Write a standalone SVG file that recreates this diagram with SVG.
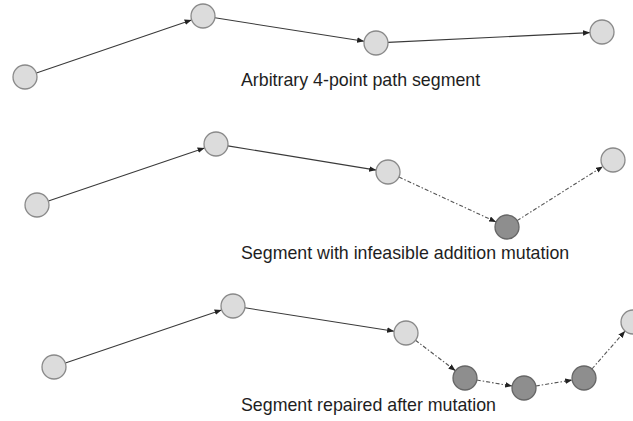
<svg xmlns="http://www.w3.org/2000/svg" width="633" height="421" viewBox="0 0 633 421">
<defs>
<marker id="arr" markerUnits="userSpaceOnUse" markerWidth="8" markerHeight="6" refX="7" refY="3" orient="auto">
<path d="M0,0.2 L7,3 L0,5.8 z" fill="#222"/>
</marker>
<style>
.bg{fill:#fff}
.n{fill:#dcdcdc;stroke:#8a8a8a;stroke-width:1.3}
.d{fill:#8e8e8e;stroke:#666;stroke-width:1.3}
.s{stroke:#3a3a3a;stroke-width:1.1;fill:none;marker-end:url(#arr)}
.h{stroke:#555;stroke-width:1.1;fill:none;stroke-dasharray:4 2 1.5 2;marker-end:url(#arr)}
.t{font-family:"Liberation Sans",Arial,sans-serif;font-size:17.8px;fill:#1e1e1e}
</style>
</defs>
<rect class="bg" x="0" y="0" width="633" height="421"/>
<g id="connectors">
<line class="s" x1="36.4" y1="73.1" x2="191.6" y2="19.9"/>
<line class="s" x1="214.9" y1="17.8" x2="364.1" y2="41.2"/>
<line class="s" x1="388" y1="42.4" x2="590" y2="32.6"/>
<line class="s" x1="48.4" y1="201.1" x2="204.6" y2="147.9"/>
<line class="s" x1="227.8" y1="145.9" x2="376.2" y2="170.1"/>
<line class="h" x1="398.9" y1="177" x2="496.1" y2="222"/>
<line class="h" x1="517.1" y1="220.6" x2="602.9" y2="166.4"/>
<line class="s" x1="65.4" y1="363.1" x2="221.6" y2="309.9"/>
<line class="s" x1="244.9" y1="307.8" x2="394.1" y2="331.2"/>
<line class="h" x1="415.5" y1="340.3" x2="455.5" y2="370.7"/>
<line class="h" x1="476.8" y1="380" x2="512.2" y2="386"/>
<line class="h" x1="535.8" y1="386" x2="572.2" y2="380"/>
<line class="h" x1="591.9" y1="369" x2="625.1" y2="331"/>
</g>
<g id="r1a"><circle class="n" cx="25" cy="77" r="12"/></g>
<g id="r1b"><circle class="n" cx="203" cy="16" r="12"/></g>
<g id="r1c"><circle class="n" cx="376" cy="43" r="12"/></g>
<g id="r1d"><circle class="n" cx="602" cy="32" r="12"/></g>
<g id="r2a"><circle class="n" cx="37" cy="205" r="12"/></g>
<g id="r2b"><circle class="n" cx="216" cy="144" r="12"/></g>
<g id="r2c"><circle class="n" cx="388" cy="172" r="12"/></g>
<g id="r2d"><circle class="d" cx="507" cy="227" r="12"/></g>
<g id="r2e"><circle class="n" cx="613" cy="160" r="12"/></g>
<g id="r3a"><circle class="n" cx="54" cy="367" r="12"/></g>
<g id="r3b"><circle class="n" cx="233" cy="306" r="12"/></g>
<g id="r3c"><circle class="n" cx="406" cy="333" r="12"/></g>
<g id="r3d"><circle class="d" cx="465" cy="378" r="12"/></g>
<g id="r3e"><circle class="d" cx="524" cy="388" r="12"/></g>
<g id="r3f"><circle class="d" cx="584" cy="378" r="12"/></g>
<g id="r3g"><circle class="n" cx="633" cy="322" r="12"/></g>
<text class="t" x="241" y="86">Arbitrary 4-point path segment</text>
<text class="t" x="241" y="259">Segment with infeasible addition mutation</text>
<text class="t" x="241" y="411">Segment repaired after mutation</text>
</svg>
